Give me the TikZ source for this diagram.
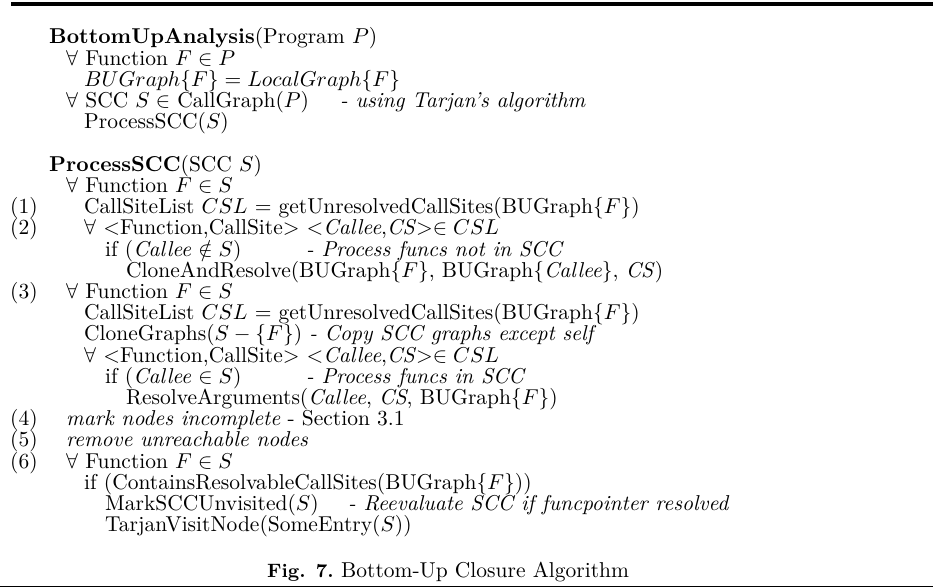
\documentclass[tikz,border=0pt]{standalone}
\usepackage{amssymb}
% listing text is set at 10pt and enlarged, so the 10pt letter shapes are kept
\newcommand\Lt[1]{\scalebox{2.15}{\fontsize{10}{12}\selectfont #1}}
\newcommand\Lc[1]{\scalebox{2.15}{\fontsize{10}{12}\selectfont\itshape #1}}
\newcommand\Lfig[1]{\scalebox{2.15}{\fontsize{9}{11}\selectfont\bfseries #1}}
\begin{document}
\begin{tikzpicture}[x=1pt,y=-1pt,
  txt/.style={anchor=base west,inner sep=0pt},
  num/.style={txt}]
\useasboundingbox (0,0) rectangle (933,588);
% rules above and below the listing
\coordinate (ta) at (11,4); \coordinate (tb) at (933,4);
\coordinate (ba) at (0,586.5); \coordinate (bb) at (933,586.5);
\draw[line width=4pt] (ta) -- (tb);
\draw[line width=1.5pt] (ba) -- (bb);
% indentation levels and comment columns
\def\LA{49}\def\LB{66}\def\LC{84}\def\LD{105}\def\LE{126}\def\NUM{10}
\def\CIF{306}
% BottomUpAnalysis
\node[txt] (l0) at (\LA,44) {\Lt{\textbf{BottomUpAnalysis}(Program $P$)}};
\node[txt] (l1) at (\LB,65.2) {\Lt{$\forall$ Function $F \in P$}};
\node[txt] (l2) at (\LC,86.4) {\Lt{$BUGraph\{F\} = LocalGraph\{F\}$}};
\node[txt] (l3) at (\LB,107.6) {\Lt{$\forall$ SCC $S \in$ CallGraph($P$)}};
\node[txt] (c3) at (340,107.6) {\Lc{- using Tarjan's algorithm}};
\node[txt] (l4) at (\LC,128.8) {\Lt{ProcessSCC($S$)}};
% ProcessSCC
\node[txt] (l6) at (\LA,171.2) {\Lt{\textbf{ProcessSCC}(SCC $S$)}};
\node[txt] (l7) at (\LB,192.4) {\Lt{$\forall$ Function $F \in S$}};
\node[num] (n1) at (\NUM,213.6) {\Lt{(1)}};
\node[txt] (l8) at (\LC,213.6) {\Lt{CallSiteList $CSL$ = getUnresolvedCallSites(BUGraph\{$F$\})}};
\node[num] (n2) at (\NUM,234.8) {\Lt{(2)}};
\node[txt] (l9) at (\LC,234.8) {\Lt{$\forall$ $<$Function,CallSite$>$ $<$\textit{Callee},\textit{CS}$>\in CSL$}};
\node[txt] (l10) at (\LD,256) {\Lt{if (\textit{Callee} $\notin S$)}};
\node[txt] (c10) at (\CIF,256) {\Lc{- Process funcs not in SCC}};
\node[txt] (l11) at (\LE,277.2) {\Lt{CloneAndResolve(BUGraph\{$F$\}, BUGraph\{\textit{Callee}\}, \textit{CS})}};
\node[num] (n3) at (\NUM,298.4) {\Lt{(3)}};
\node[txt] (l12) at (\LB,298.4) {\Lt{$\forall$ Function $F \in S$}};
\node[txt] (l13) at (\LC,319.6) {\Lt{CallSiteList $CSL$ = getUnresolvedCallSites(BUGraph\{$F$\})}};
\node[txt] (l14) at (\LC,340.8) {\Lt{CloneGraphs($S - \{F\}$) \textit{- Copy SCC graphs except self}}};
\node[txt] (l15) at (\LC,362) {\Lt{$\forall$ $<$Function,CallSite$>$ $<$\textit{Callee},\textit{CS}$>\in CSL$}};
\node[txt] (l16) at (\LD,383.2) {\Lt{if (\textit{Callee} $\in S$)}};
\node[txt] (c16) at (\CIF,383.2) {\Lc{- Process funcs in SCC}};
\node[txt] (l17) at (\LE,404.4) {\Lt{ResolveArguments(\textit{Callee}, \textit{CS}, BUGraph\{$F$\})}};
\node[num] (n4) at (\NUM,425.6) {\Lt{(4)}};
\node[txt] (l18) at (\LB,425.6) {\Lt{\textit{mark nodes incomplete} - Section 3.1}};
\node[num] (n5) at (\NUM,446.8) {\Lt{(5)}};
\node[txt] (l19) at (\LB,446.8) {\Lt{\textit{remove unreachable nodes}}};
\node[num] (n6) at (\NUM,468) {\Lt{(6)}};
\node[txt] (l20) at (\LB,468) {\Lt{$\forall$ Function $F \in S$}};
\node[txt] (l21) at (\LC,489.2) {\Lt{if (ContainsResolvableCallSites(BUGraph\{$F$\}))}};
\node[txt] (l22) at (\LD,510.4) {\Lt{MarkSCCUnvisited($S$)}};
\node[txt] (c22) at (348,510.4) {\Lc{- Reevaluate SCC if funcpointer resolved}};
\node[txt] (l23) at (\LD,531.6) {\Lt{TarjanVisitNode(SomeEntry($S$))}};
% caption
\node[inner sep=0pt,anchor=base east] (fig) at (334,577) {\Lfig{Fig. 7.}};
\node[inner sep=0pt,anchor=base west] (cap) at (341,577) {\Lt{Bottom-Up Closure Algorithm}};
\end{tikzpicture}
\end{document}
